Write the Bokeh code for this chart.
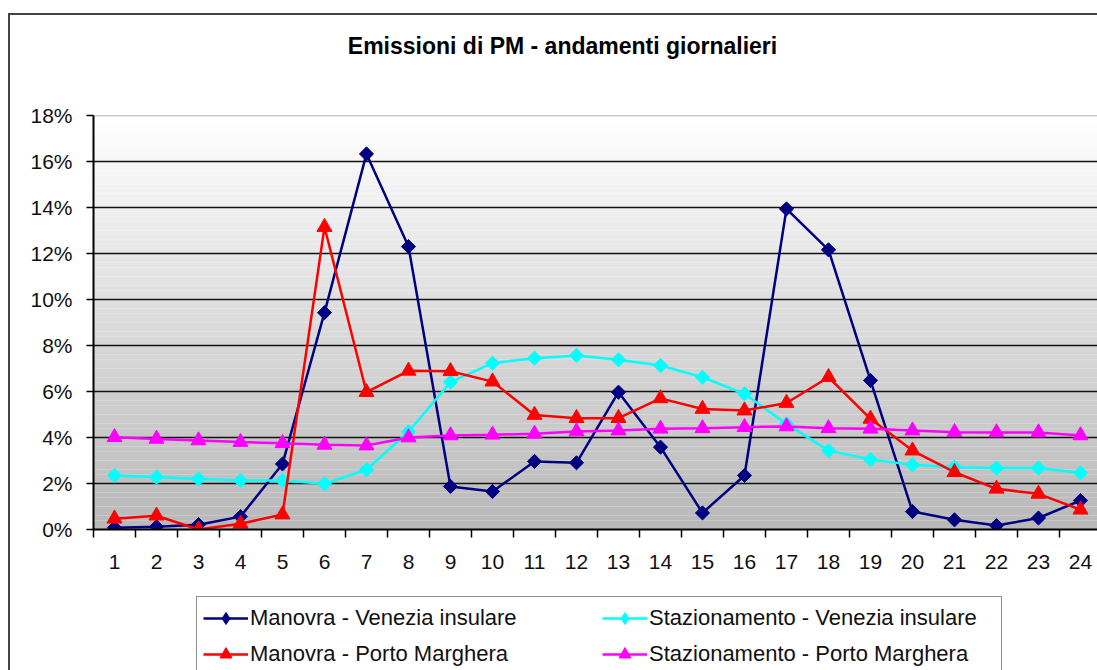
import numpy as np
from bokeh.plotting import figure
from bokeh.layouts import column
from bokeh.models import Range1d, FixedTicker, PrintfTickFormatter, Span, Legend, LegendItem, Label
from bokeh.embed import file_html
from bokeh.resources import INLINE

hours = list(range(1, 25))
manovra_vi = [0.08, 0.12, 0.21, 0.56, 2.85, 9.43, 16.33, 12.3, 1.87, 1.65, 2.96, 2.9,
              5.97, 3.58, 0.72, 2.35, 13.94, 12.16, 6.48, 0.78, 0.42, 0.17, 0.5, 1.26]
staz_vi = [2.35, 2.28, 2.2, 2.13, 2.13, 1.99, 2.6, 4.25, 6.41, 7.23, 7.45, 7.57,
           7.38, 7.13, 6.62, 5.9, 4.59, 3.43, 3.04, 2.81, 2.71, 2.67, 2.67, 2.46]
manovra_pm = [0.47, 0.6, 0.0, 0.25, 0.65, 13.15, 5.97, 6.9, 6.88, 6.43, 4.98, 4.84,
              4.84, 5.7, 5.24, 5.17, 5.5, 6.62, 4.81, 3.43, 2.49, 1.77, 1.55, 0.86]
staz_pm = [4.01, 3.94, 3.87, 3.8, 3.75, 3.68, 3.65, 4.0, 4.09, 4.12, 4.16, 4.26,
           4.3, 4.38, 4.4, 4.45, 4.48, 4.4, 4.38, 4.3, 4.23, 4.22, 4.22, 4.09]
y_ticks = list(range(0, 20, 2))
title_text = "Emissioni di PM - andamenti giornalieri"

series = [
    ("Manovra - Venezia insulare", manovra_vi, "#000080", "diamond"),
    ("Stazionamento - Venezia insulare", staz_vi, "#00FFFF", "diamond"),
    ("Manovra - Porto Marghera", manovra_pm, "#FF0000", "triangle"),
    ("Stazionamento - Porto Marghera", staz_pm, "#FF00FF", "triangle"),
]

FONT = "Liberation Sans"
W = 1097
LEFT = 93  # frames of the column are aligned at this x
BORDER = "#444444"


def bare(fig):
    fig.grid.visible = False
    fig.outline_line_color = None
    fig.border_fill_color = None
    fig.background_fill_color = None


# ---- title strip ----
pt = figure(width=W, height=80, output_backend="svg", toolbar_location=None,
            x_axis_location=None, y_axis_location=None,
            x_range=Range1d(LEFT, W), y_range=Range1d(80, 0),
            min_border_left=LEFT, min_border_right=0, min_border_top=0, min_border_bottom=0)
bare(pt)
pt.styles = {"background-color": "white",
             "box-shadow": "inset 8px 0 0 0 #ffffff, inset 0 13px 0 0 #ffffff, inset 10px 15px 0 0 " + BORDER}
pt.add_layout(Label(x=562, y=45, text=title_text, text_align="center", text_baseline="middle",
                    text_font=FONT, text_font_size="23px", text_font_style="bold",
                    text_color="#000000"))

# ---- main chart ----
p = figure(width=W, height=510, output_backend="svg", toolbar_location=None,
           x_range=Range1d(0.5, 24.405), y_range=Range1d(0, 18),
           min_border_left=LEFT, min_border_top=35, min_border_bottom=61, min_border_right=0)
p.styles = {"background-color": "white",
            "box-shadow": "inset 8px 0 0 0 #ffffff, inset 10px 0 0 0 " + BORDER}
p.outline_line_color = None
p.background_fill_color = "white"
p.border_fill_color = None

n = 90
edges = np.linspace(0, 18, n + 1)
shade = np.linspace(185, 255, n)
cols = ["#%02x%02x%02x" % (int(s), int(s), int(s)) for s in shade]
p.quad(left=0.5, right=25, bottom=edges[:-1], top=edges[1:] + 0.001, fill_color=cols,
       line_color=None, level="image")

p.xgrid.visible = False
p.ygrid.ticker = FixedTicker(ticks=y_ticks[1:-1])
p.ygrid.grid_line_color = "#111111"
p.ygrid.grid_line_width = 1.5
p.add_layout(Span(location=18, dimension="width", line_color="#9a9a9a", line_width=1.5,
                  level="underlay"))

p.yaxis.ticker = FixedTicker(ticks=y_ticks)
p.yaxis.formatter = PrintfTickFormatter(format="%d%%")
p.xaxis.ticker = FixedTicker(ticks=hours, minor_ticks=[h - 0.5 for h in hours] + [24.5])
for ax in (p.xaxis, p.yaxis):
    ax.axis_line_color = "#000000"
    ax.axis_line_width = 2
    ax.major_label_text_font = FONT
    ax.major_label_text_font_size = "21px"
    ax.major_label_text_color = "#111111"
p.yaxis.major_tick_out = 7
p.yaxis.major_tick_in = 0
p.yaxis.major_tick_line_width = 1.5
p.yaxis.major_tick_line_color = "#000000"
p.yaxis.minor_tick_line_color = None
p.yaxis.major_label_standoff = 14
p.xaxis.major_tick_line_color = None
p.xaxis.minor_tick_line_color = "#000000"
p.xaxis.minor_tick_line_width = 1.5
p.xaxis.minor_tick_out = 8
p.xaxis.minor_tick_in = 0
p.xaxis.major_label_standoff = 17

# ---- legend strip ----
pl = figure(width=W, height=80, output_backend="svg", toolbar_location=None,
            x_axis_location=None, y_axis_location=None,
            x_range=Range1d(100, 200), y_range=Range1d(100, 200),
            min_border_left=LEFT, min_border_right=0, min_border_top=0, min_border_bottom=0)
bare(pl)
pl.styles = {"background-color": "white",
             "box-shadow": "inset 8px 0 0 0 #ffffff, inset 10px 0 0 0 " + BORDER}


def draw(fig, vals, color, mk, in_legend=False):
    r1 = fig.line(hours, vals, line_color=color, line_width=2.5)
    if mk == "diamond":
        if in_legend:
            r2 = fig.scatter(hours, vals, marker="diamond", size=14,
                             fill_color=color, line_color=color)
        else:
            r2 = fig.scatter(hours, vals, marker="square", angle=np.pi / 4, size=10,
                             fill_color=color, line_color=color)
    else:
        r2 = fig.scatter(hours, vals, marker="triangle", size=15,
                         fill_color=color, line_color=color)
    return [r1, r2]


items = {}
for name, vals, color, mk in series:
    draw(p, vals, color, mk)
    items[name] = LegendItem(label=name, renderers=draw(pl, vals, color, mk, in_legend=True))

order = ["Manovra - Venezia insulare", "Manovra - Porto Marghera",
         "Stazionamento - Venezia insulare", "Stazionamento - Porto Marghera"]
legend = Legend(items=[items[k] for k in order], ncols=2, location=(196 - LEFT, -6),
                label_text_font=FONT, label_text_font_size="22px", label_text_color="#111111",
                glyph_width=45, glyph_height=30, label_height=30, label_width=346,
                label_standoff=2, spacing=6, padding=6, margin=0,
                border_line_color="#222222", border_line_width=1.5,
                background_fill_color="white", background_fill_alpha=1)
pl.add_layout(legend, "center")

layout = column(pt, p, pl, spacing=0)
open("out.html", "w").write(file_html(layout, INLINE))
